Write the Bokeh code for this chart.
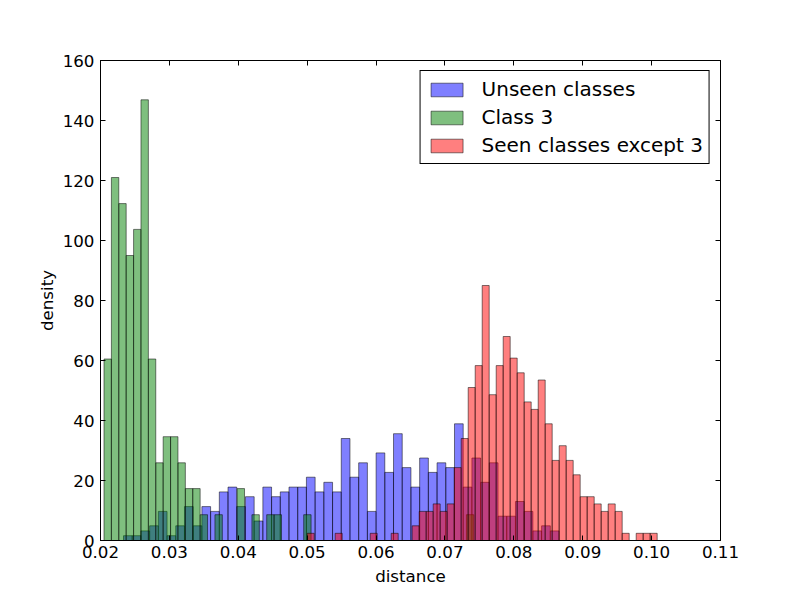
import numpy as np
from bokeh.plotting import figure
from bokeh.models import LinearAxis, FixedTicker, NumeralTickFormatter, Legend, LegendItem, ColumnDataSource
from bokeh.embed import file_html
from bokeh.resources import INLINE

# ---- data (density histograms, 50 bins each) ----
unseen_bin_start = 0.023339
unseen_bin_width = 0.0012644
unseen_density = [1.6, 1.6, 3.2, 4.9, 9.7, 1.6, 4.9, 11.3, 4.9, 11.3,
                  9.7, 16.2, 17.8, 11.3, 14.6, 6.5, 17.8, 14.6, 16.2, 17.8,
                  17.8, 21.1, 16.2, 19.4, 16.2, 34.0, 21.1, 25.9, 9.7, 29.2,
                  22.7, 35.6, 24.3, 17.8, 27.5, 22.7, 25.9, 24.3, 38.9, 17.8,
                  27.5, 19.4, 25.9, 8.1, 8.1, 13.0, 9.7, 3.2, 4.9, 3.2]

class3_bin_start = 0.020508
class3_bin_width = 0.0010736
class3_density = [60.5, 121.0, 112.3, 95.0, 103.7, 146.9, 60.5, 25.9, 34.6, 34.6,
                  25.9, 17.3, 17.3, 8.6, 0, 8.6, 0, 0, 17.3, 0,
                  8.6, 0, 8.6, 8.6, 0, 0, 0, 8.6, 0, 0,
                  0, 0, 0, 0, 0, 0, 0, 0, 0, 0,
                  0, 0, 0, 0, 0, 0, 0, 0, 0, 8.6]

seen_bin_start = 0.050005
seen_bin_width = 0.0010161
seen_density = [2.4, 0, 0, 0, 2.4, 0, 0, 0, 0, 2.4,
                0, 0, 2.4, 0, 0, 4.9, 9.7, 9.7, 12.2, 9.7,
                12.2, 24.3, 34.0, 51.0, 58.3, 85.0, 48.6, 58.3, 68.0, 60.8,
                55.9, 46.2, 43.7, 53.5, 38.9, 26.7, 31.6, 26.7, 21.9, 14.6,
                14.6, 12.2, 9.7, 12.2, 9.7, 2.4, 0, 2.4, 2.4, 2.4]

series_names = ["Unseen classes", "Class 3", "Seen classes except 3"]
series_colors = ["#0000ff", "#008000", "#ff0000"]

x_ticks = [0.02, 0.03, 0.04, 0.05, 0.06, 0.07, 0.08, 0.09, 0.10, 0.11]
y_ticks = [0, 20, 40, 60, 80, 100, 120, 140, 160]

FONT = "DejaVu Sans"

p = figure(width=800, height=600, x_range=(0.02, 0.11), y_range=(0, 160),
           output_backend="svg", toolbar_location=None,
           min_border_left=100, min_border_right=80, min_border_top=60, min_border_bottom=60)
p.xgrid.visible = False
p.ygrid.visible = False
p.outline_line_color = "black"
p.outline_line_width = 1
p.outline_line_alpha = 1
p.background_fill_color = "white"
p.border_fill_color = "white"

def hist_source(start, width, dens):
    d = np.array(dens, dtype=float)
    left = start + width * np.arange(len(d))
    right = left + width
    m = d > 0
    return ColumnDataSource(dict(left=left[m], right=right[m], top=d[m], bottom=np.zeros(m.sum())))

renderers = []
for (start, width, dens), color in zip(
        [(unseen_bin_start, unseen_bin_width, unseen_density),
         (class3_bin_start, class3_bin_width, class3_density),
         (seen_bin_start, seen_bin_width, seen_density)], series_colors):
    src = hist_source(start, width, dens)
    r = p.quad(left="left", right="right", bottom="bottom", top="top", source=src,
               fill_color=color, fill_alpha=0.5, line_color="black", line_alpha=0.5, line_width=1)
    renderers.append(r)

def style_axis(ax, labels=True):
    ax.major_tick_in = 5
    ax.major_tick_out = 0
    ax.minor_tick_in = 0
    ax.minor_tick_out = 0
    ax.axis_line_color = "black"
    ax.major_tick_line_color = "black"
    ax.major_label_text_font = FONT
    ax.major_label_text_font_size = "16.7px"
    ax.axis_label_text_font = FONT
    ax.axis_label_text_font_style = "normal"
    ax.axis_label_text_font_size = "16.7px"
    ax.axis_label_text_color = "black"
    if labels:
        ax.major_label_text_color = "black"
    else:
        ax.major_label_text_color = None
        ax.major_label_standoff = 0

xt = FixedTicker(ticks=x_ticks, minor_ticks=[])
yt = FixedTicker(ticks=y_ticks, minor_ticks=[])

xa = p.xaxis[0]
xa.ticker = xt
xa.formatter = NumeralTickFormatter(format="0.00")
xa.axis_label = "distance"
style_axis(xa)
xa.major_label_standoff = 5
xa.axis_label_standoff = 5

ya = p.yaxis[0]
ya.ticker = yt
ya.axis_label = "density"
style_axis(ya)
ya.major_label_standoff = 6
ya.axis_label_standoff = 3

top_ax = LinearAxis(ticker=FixedTicker(ticks=x_ticks, minor_ticks=[]))
style_axis(top_ax, labels=False)
p.add_layout(top_ax, "above")
right_ax = LinearAxis(ticker=FixedTicker(ticks=y_ticks, minor_ticks=[]))
style_axis(right_ax, labels=False)
p.add_layout(right_ax, "right")

legend = Legend(items=[LegendItem(label=n, renderers=[r]) for n, r in zip(series_names, renderers)],
                location="top_right", margin=10, padding=6, spacing=4,
                glyph_width=40, glyph_height=17, label_standoff=15,
                label_text_font=FONT, label_text_font_size="20px", label_text_color="black",
                border_line_color="black", border_line_width=1, border_line_alpha=1,
                background_fill_color="white", background_fill_alpha=1)
p.add_layout(legend, "center")

open("out.html", "w").write(file_html(p, INLINE))
